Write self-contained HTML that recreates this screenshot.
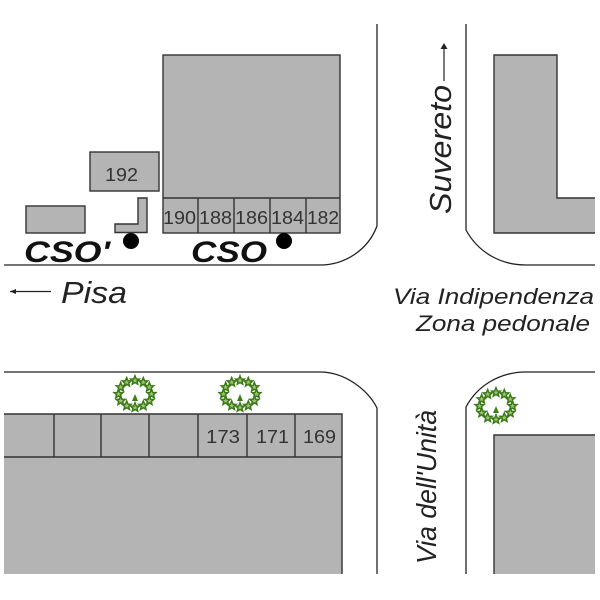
<!DOCTYPE html>
<html><head><meta charset="utf-8"><style>
html,body{margin:0;padding:0;background:#fff}
svg{display:block}
text{font-family:"Liberation Sans",sans-serif;fill:#222}
.n{font-size:18px;fill:#333}
.i{font-style:italic}
</style></head><body>
<svg width="600" height="600" viewBox="0 0 600 600" xmlns="http://www.w3.org/2000/svg">
<defs>
<polygon id="s" points="0,-4.700 1.300,-1.500 4.400,-1.400 2,.7 2.700,3.700 0,2 -2.700,3.700 -2,.7 -4.400,-1.400 -1.300,-1.500" fill="#a3c277" stroke="#3a7a16" stroke-width="1.500"/>
<g id="tree">
<use href="#s" x="16.500" y="0"/><use href="#s" x="14.300" y="6.800"/><use href="#s" x="8.300" y="11.700"/>
<use href="#s" x="0" y="13.500"/><use href="#s" x="-8.300" y="11.700"/><use href="#s" x="-14.300" y="6.800"/>
<use href="#s" x="-16.500" y="0"/><use href="#s" x="-14.300" y="-6.800"/><use href="#s" x="-8.300" y="-11.700"/>
<use href="#s" x="0" y="-13.500"/><use href="#s" x="8.300" y="-11.700"/><use href="#s" x="14.300" y="-6.800"/>
<path d="M0 0 L3 7 L-3 7Z" fill="#3f7f1a"/>
</g>
</defs>
<g fill="none" stroke="#222" stroke-width="1.3">
<path d="M377 24V226C368 250 345 265 320 265H4"/>
<path d="M466 24V230C478 252 500 265 526 265H595"/>
<path d="M4 372H320C345 372 368 390 377 408V574"/>
<path d="M466 574V407C476 388 497 372 526 372H595"/>
</g>
<g fill="#b4b4b4" stroke="#333" stroke-width="1.4">
<rect x="163" y="55" width="177" height="178"/>
<path d="M163 198H340M198 198V233M234 198V233M270 198V233M306 198V233" fill="none"/>
<rect x="90" y="152" width="69" height="39"/>
<rect x="26" y="206" width="59" height="27"/>
<path d="M138 198H147V232.500H115V224H138Z"/>
<path d="M595 55H494V233H595V198H557V55H494" stroke="none"/>
<path d="M595 198H557V55H494V233H595" fill="none"/>
<path d="M342 414V574H4V414Z" stroke="none"/>
<path d="M4 414H342V574M4 457H342M54 414V457M101 414V457M149 414V457M198 414V457M247 414V457M295 414V457" fill="none"/>
<path d="M595 435H494V574H595Z" stroke="none"/>
<path d="M595 435H494V574" fill="none"/>
</g>
<circle cx="131" cy="241" r="8" fill="#000"/>
<circle cx="284" cy="241" r="8" fill="#000"/>
<use href="#tree" x="135" y="394"/>
<use href="#tree" x="240" y="394"/>
<use href="#tree" x="496" y="406"/>
<text class="n" x="105" y="181" textLength="33" lengthAdjust="spacingAndGlyphs">192</text>
<text class="n" x="163" y="224" textLength="33" lengthAdjust="spacingAndGlyphs">190</text>
<text class="n" x="199" y="224" textLength="33" lengthAdjust="spacingAndGlyphs">188</text>
<text class="n" x="235" y="224" textLength="33" lengthAdjust="spacingAndGlyphs">186</text>
<text class="n" x="271" y="224" textLength="33" lengthAdjust="spacingAndGlyphs">184</text>
<text class="n" x="307" y="224" textLength="32" lengthAdjust="spacingAndGlyphs">182</text>
<text class="n" x="206" y="443" textLength="34" lengthAdjust="spacingAndGlyphs">173</text>
<text class="n" x="256" y="443" textLength="33" lengthAdjust="spacingAndGlyphs">171</text>
<text class="n" x="303" y="443" textLength="33" lengthAdjust="spacingAndGlyphs">169</text>
<text x="24" y="262" font-size="30" font-weight="bold" font-style="italic" textLength="86" lengthAdjust="spacingAndGlyphs" style="fill:#111">CSO'</text>
<text x="191" y="262" font-size="30" font-weight="bold" font-style="italic" textLength="76" lengthAdjust="spacingAndGlyphs" style="fill:#111">CSO</text>
<path d="M10 291.500H51" stroke="#222" stroke-width="1.200"/>
<path d="M10 291.500L16 289V294Z" fill="#222"/>
<text class="i" x="61" y="303" font-size="31" textLength="66" lengthAdjust="spacingAndGlyphs">Pisa</text>
<text class="i" x="393" y="304" font-size="22" textLength="201" lengthAdjust="spacingAndGlyphs">Via Indipendenza</text>
<text class="i" x="416" y="331" font-size="22" textLength="174" lengthAdjust="spacingAndGlyphs">Zona pedonale</text>
<text class="i" transform="translate(451,214) rotate(-90)" font-size="31" textLength="129" lengthAdjust="spacingAndGlyphs">Suvereto</text>
<path d="M444 81V45" stroke="#222" stroke-width="1.200"/>
<path d="M444 43L440.500 49H447.500Z" fill="#222"/>
<text class="i" transform="translate(436,564) rotate(-90)" font-size="28" textLength="154" lengthAdjust="spacingAndGlyphs">Via dell'Unità</text>
</svg>
</body></html>
